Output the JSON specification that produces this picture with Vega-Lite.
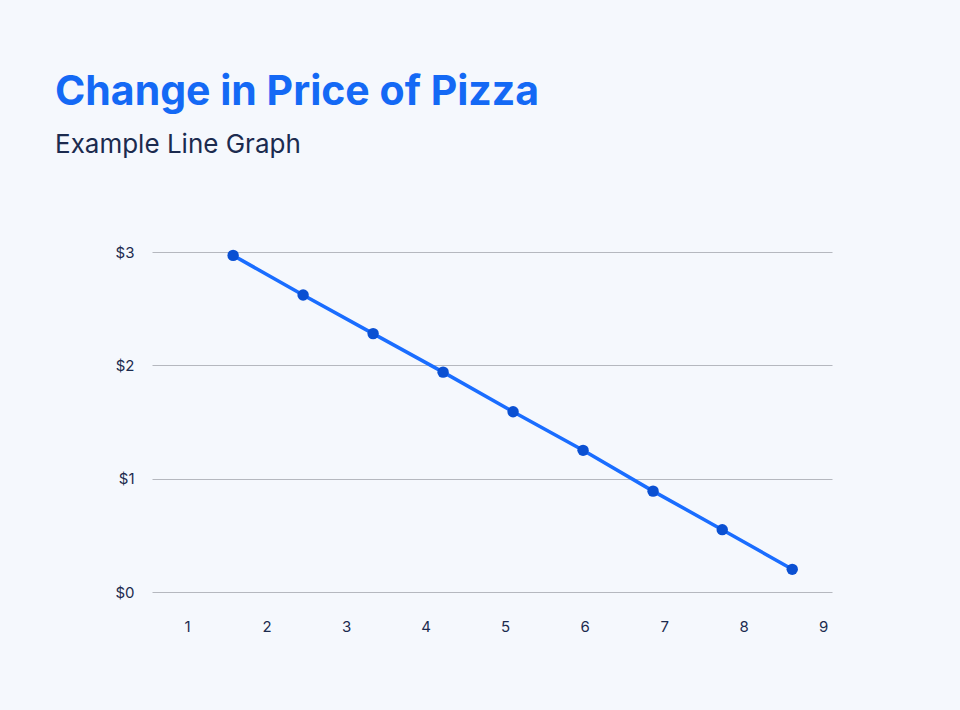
{
"$schema":"https://vega.github.io/schema/vega-lite/v6.json",
"width":680,"height":340,
"autosize":{"type":"none"},
"padding":{"left":152,"top":252,"right":128,"bottom":118},
"background":"#f5f8fd",
"title":{"text":"Change in Price of Pizza","subtitle":"Example Line Graph","anchor":"start","frame":"group","dx":-97,"offset":86,"font":"Inter","fontSize":41,"fontWeight":"bold","color":"#1469f5","subtitleFont":"Inter","subtitleFontSize":26,"subtitleColor":"#1c2b4f","subtitlePadding":18},
"config":{"view":{"stroke":null},"font":"Inter"},
"data":{"values":[
{"x":1.58,"p":2.97},{"x":2.46,"p":2.62},{"x":3.34,"p":2.28},{"x":4.22,"p":1.94},{"x":5.1,"p":1.59},{"x":5.98,"p":1.25},{"x":6.86,"p":0.89},{"x":7.73,"p":0.55},{"x":8.61,"p":0.2}]},
"encoding":{
"x":{"field":"x","type":"quantitative","scale":{"domain":[0.56,9.11],"nice":false,"zero":false},"axis":{"values":[1,2,3,4,5,6,7,8,9],"title":null,"grid":false,"domain":false,"ticks":false,"labelPadding":27,"labelFontSize":15,"labelColor":"#1c2b4f","labelFlush":false}},
"y":{"field":"p","type":"quantitative","scale":{"domain":[0,3],"nice":false},"axis":{"values":[0,1,2,3],"format":"$d","title":null,"domain":false,"ticks":false,"labelPadding":18,"labelFontSize":15,"labelColor":"#1c2b4f","gridColor":"#b5b8bf","gridWidth":1.2}}},
"layer":[
{"mark":{"type":"line","color":"#1a6dff","strokeWidth":3.5}},
{"mark":{"type":"point","filled":true,"color":"#0b50d2","size":130,"opacity":1}}
]}
